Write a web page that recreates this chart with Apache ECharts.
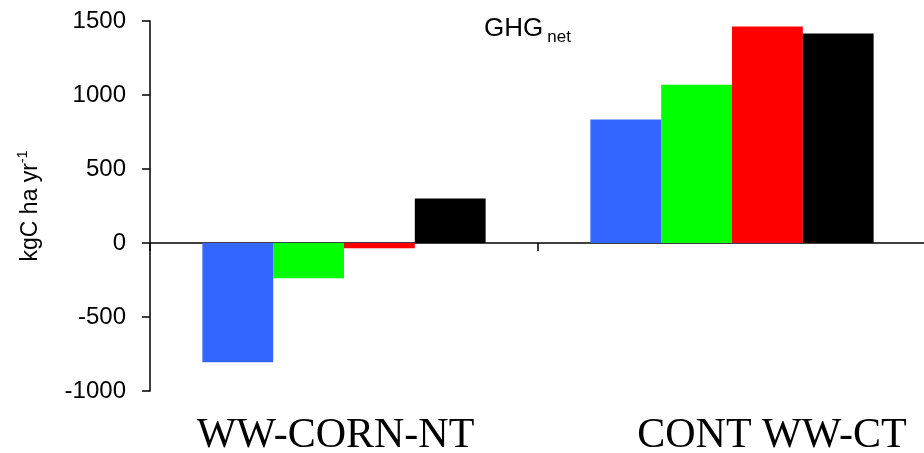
<!DOCTYPE html>
<html>
<head>
<meta charset="utf-8">
<script src="https://cdn.jsdelivr.net/npm/echarts@6/dist/echarts.min.js"></script>
<style>
html,body{margin:0;padding:0;background:#fff;}
#chart{width:924px;height:453px;}
</style>
</head>
<body>
<div id="chart"></div>
<script>
var categories = ['WW-CORN-NT', 'CONT WW-CT'];
var seriesNames = ['Series 1', 'Series 2', 'Series 3', 'Series 4'];
var series1 = [-805, 834];
var series2 = [-238, 1070];
var series3 = [-35, 1462];
var series4 = [300, 1415];
var yTicks = [-1000, -500, 0, 500, 1000, 1500];

var colors = ['#3366FF', '#00FF00', '#FF0000', '#000000'];
var allSeries = [series1, series2, series3, series4];

var chart = echarts.init(document.getElementById('chart'), null, {renderer: 'canvas'});
var option = {
  animation: false,
  backgroundColor: '#ffffff',
  title: {
    text: '{a|GHG}{b|net}',
    left: 479,
    top: 11,
    textStyle: {
      fontWeight: 'normal',
      rich: {
        a: {fontFamily: 'Liberation Sans, Arial, sans-serif', fontSize: 26, fontWeight: 'normal', color: '#000', lineHeight: 30, verticalAlign: 'top'},
        b: {fontFamily: 'Liberation Sans, Arial, sans-serif', fontSize: 17, fontWeight: 'normal', color: '#000', lineHeight: 16, verticalAlign: 'bottom', padding: [0, 0, 0, 4]}
      }
    }
  },
  grid: {left: 150, right: -2, top: 21, bottom: 62, containLabel: false, outerBoundsMode: 'none'},
  xAxis: [
    {
      type: 'category',
      data: categories,
      axisLine: {show: true, onZero: true, lineStyle: {color: '#000', width: 1.5}},
      axisTick: {show: true, length: 8, lineStyle: {color: '#000', width: 1.5}},
      axisLabel: {show: false},
      splitLine: {show: false}
    },
    {
      type: 'category',
      data: categories,
      position: 'bottom',
      axisLine: {show: false, onZero: false},
      axisTick: {show: false},
      splitLine: {show: false},
      axisLabel: {
        show: true,
        margin: 24,
        interval: 0,
        formatter: function (v, i) { return '{l' + i + '|' + v + '}'; },
        rich: {
          l0: {fontFamily: 'Liberation Serif, Times New Roman, serif', fontSize: 42, color: '#000', padding: [0, 17, 0, 0]},
          l1: {fontFamily: 'Liberation Serif, Times New Roman, serif', fontSize: 42, color: '#000', padding: [0, 0, 0, 80]}
        }
      }
    }
  ],
  yAxis: {
    type: 'value',
    min: yTicks[0],
    max: yTicks[yTicks.length - 1],
    interval: 500,
    name: '{a|kgC ha yr}{s|-1}',
    nameLocation: 'middle',
    nameGap: 108,
    nameTextStyle: {
      rich: {
        a: {fontFamily: 'Liberation Sans, Arial, sans-serif', fontSize: 23, color: '#000', lineHeight: 26, verticalAlign: 'bottom'},
        s: {fontFamily: 'Liberation Sans, Arial, sans-serif', fontSize: 14, color: '#000', lineHeight: 14, verticalAlign: 'top'}
      }
    },
    axisLine: {show: true, lineStyle: {color: '#000', width: 1.5}},
    axisTick: {show: true, length: 8, lineStyle: {color: '#000', width: 1.5}},
    axisLabel: {
      margin: 24,
      fontFamily: 'Liberation Sans, Arial, sans-serif',
      fontSize: 24,
      color: '#000',
      formatter: function (v) { return String(v); }
    },
    splitLine: {show: false}
  },
  series: allSeries.map(function (d, i) {
    return {
      name: seriesNames[i],
      type: 'bar',
      xAxisIndex: 0,
      data: d,
      barGap: '0%',
      barCategoryGap: '27%',
      itemStyle: {color: colors[i]},
      emphasis: {disabled: true}
    };
  })
};
chart.setOption(option);
</script>
</body>
</html>
